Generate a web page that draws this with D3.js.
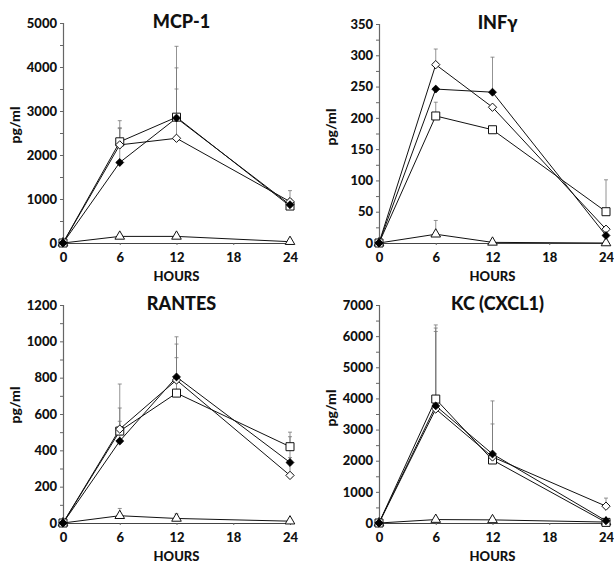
<!DOCTYPE html>
<html>
<head>
<meta charset="utf-8">
<script src="https://cdn.jsdelivr.net/npm/d3@7"></script>
<style>
  html, body { margin: 0; padding: 0; background: #fff; }
  svg { display: block; }
  text { font-family: Lato, "Open Sans", sans-serif; font-weight: 900; fill: #111; }
</style>
</head>
<body>
<svg id="chart" width="614" height="565"></svg>
<script>
// ---- data ----
const hours = [0, 6, 12, 24];
const xTicks = [0, 6, 12, 18, 24];
const seriesNames = ["filledDiamond", "openSquare", "openDiamond", "openTriangle"];

const panelTitles = ["MCP-1", "INF\u03b3", "RANTES", "KC (CXCL1)"];
const yMaxes = [5000, 350, 1200, 7000];
const yMajorSteps = [1000, 50, 200, 1000];
const yMinorSteps = [500, 25, 100, 500];

// MCP-1
const mcpFilled   = [0, 1830, 2840, 870];
const mcpSquare   = [0, 2300, 2860, 840];
const mcpDiamond  = [0, 2230, 2380, 940];
const mcpTriangle = [0, 150, 150, 30];
const mcpFilledErr   = [null, 2600, 3980, 1000];
const mcpSquareErr   = [null, 2780, 4470, 980];
const mcpDiamondErr  = [null, 2620, 3500, 1190];
const mcpTriangleErr = [null, null, null, null];

// INFγ
const infFilled   = [0, 246, 241, 12];
const infSquare   = [0, 203, 181, 50];
const infDiamond  = [0, 285, 217, 22];
const infTriangle = [0, 14, 1, 0];
const infFilledErr   = [null, null, 297, null];
const infSquareErr   = [null, 225, null, 101];
const infDiamondErr  = [null, 310, null, null];
const infTriangleErr = [null, 36, null, null];

// RANTES
const ranFilled   = [0, 451, 804, 333];
const ranSquare   = [0, 506, 715, 420];
const ranDiamond  = [0, 517, 787, 262];
const ranTriangle = [0, 40, 25, 10];
const ranFilledErr   = [null, 633, 985, 475];
const ranSquareErr   = [null, 765, 910, 500];
const ranDiamondErr  = [null, 560, 1025, 360];
const ranTriangleErr = [null, 80, 50, null];

// KC (CXCL1)
const kcFilled   = [0, 3760, 2216, 70];
const kcSquare   = [0, 3980, 2023, 20];
const kcDiamond  = [0, 3660, 2120, 540];
const kcTriangle = [0, 110, 100, 30];
const kcFilledErr   = [null, 6260, 3180, null];
const kcSquareErr   = [null, 6360, 3920, null];
const kcDiamondErr  = [null, 6150, null, 800];
const kcTriangleErr = [null, null, null, null];

const panelData = [
  { values: [mcpFilled, mcpSquare, mcpDiamond, mcpTriangle], errs: [mcpFilledErr, mcpSquareErr, mcpDiamondErr, mcpTriangleErr] },
  { values: [infFilled, infSquare, infDiamond, infTriangle], errs: [infFilledErr, infSquareErr, infDiamondErr, infTriangleErr] },
  { values: [ranFilled, ranSquare, ranDiamond, ranTriangle], errs: [ranFilledErr, ranSquareErr, ranDiamondErr, ranTriangleErr] },
  { values: [kcFilled, kcSquare, kcDiamond, kcTriangle], errs: [kcFilledErr, kcSquareErr, kcDiamondErr, kcTriangleErr] }
];

// ---- layout ----
const panelBoxes = [
  { x0: 63,  x1: 290, y0: 243, y1: 23,  ylabY: 125 },
  { x0: 379, x1: 606, y0: 243, y1: 24,  ylabY: 127 },
  { x0: 63,  x1: 290, y0: 523, y1: 305, ylabY: 405 },
  { x0: 379, x1: 606, y0: 523, y1: 305, ylabY: 408 }
];

const svg = d3.select("#chart");

function drawMarker(g, type, x, y) {
  if (type === "filledDiamond") {
    g.append("path").attr("d", d3.symbol(d3.symbolDiamond2, 40)())
      .attr("transform", `translate(${x},${y})`)
      .attr("fill", "#000").attr("stroke", "#000").attr("stroke-width", 0.8);
  } else if (type === "openSquare") {
    g.append("path").attr("d", d3.symbol(d3.symbolSquare, 64)())
      .attr("transform", `translate(${x},${y})`)
      .attr("fill", "#fff").attr("stroke", "#111").attr("stroke-width", 1);
  } else if (type === "openDiamond") {
    g.append("path").attr("d", d3.symbol(d3.symbolDiamond2, 44)())
      .attr("transform", `translate(${x},${y})`)
      .attr("fill", "#fff").attr("stroke", "#111").attr("stroke-width", 1);
  } else {
    g.append("path").attr("d", d3.symbol(d3.symbolTriangle, 40)())
      .attr("transform", `translate(${x},${y})`)
      .attr("fill", "#fff").attr("stroke", "#111").attr("stroke-width", 1);
  }
}

const tickFont = el => el.style("font-size", "13px").style("font-family", "Lato, sans-serif")
  .style("font-weight", "900").attr("fill", "#111");

panelBoxes.forEach((b, i) => {
  const g = svg.append("g");
  const x = d3.scaleLinear().domain([0, 24]).range([b.x0, b.x1]);
  const y = d3.scaleLinear().domain([0, yMaxes[i]]).range([b.y0, b.y1]);

  // y axis with minor ticks
  const minorTicks = d3.range(0, yMaxes[i] + 1e-9, yMinorSteps[i]);
  const majorTicks = d3.range(0, yMaxes[i] + 1e-9, yMajorSteps[i]);
  const yAxisMinor = d3.axisLeft(y).tickValues(minorTicks).tickSize(3).tickFormat("");
  const ya = g.append("g").attr("transform", `translate(${b.x0},0)`).call(yAxisMinor);
  ya.select(".domain").attr("stroke", "#666").attr("stroke-width", 1.2);
  ya.selectAll(".tick line").attr("stroke", "#666");
  const yAxisMajor = d3.axisLeft(y).tickValues(majorTicks).tickSize(0).tickPadding(6).tickFormat(d3.format("d"));
  const yb = g.append("g").attr("transform", `translate(${b.x0},0)`).call(yAxisMajor);
  yb.select(".domain").remove();
  tickFont(yb.selectAll("text"));

  // x axis
  const xAxis = d3.axisBottom(x).tickValues(xTicks).tickSize(2).tickPadding(8).tickSizeOuter(0).tickFormat(d3.format("d"));
  const xa = g.append("g").attr("transform", `translate(0,${b.y0})`).call(xAxis);
  xa.select(".domain").attr("stroke", "#444").attr("stroke-width", 1.2);
  xa.selectAll(".tick line").attr("stroke", "#666");
  tickFont(xa.selectAll("text"));

  // titles & labels
  g.append("text").attr("x", (b.x0 + b.x1) / 2 + 5).attr("y", b.y1 + 5)
    .attr("text-anchor", "middle").style("font-size", "18px").text(panelTitles[i]);
  g.append("text").attr("x", (b.x0 + b.x1) / 2).attr("y", b.y0 + 38)
    .attr("text-anchor", "middle").style("font-size", "13px").text("HOURS");
  g.append("text").attr("transform", `translate(${b.x0 - 43},${b.ylabY}) rotate(-90)`)
    .attr("text-anchor", "middle").style("font-size", "14px").text("pg/ml");

  const pd = panelData[i];
  // error bars (upward only)
  pd.errs.forEach((errs, s) => {
    errs.forEach((e, k) => {
      if (e == null) return;
      const xx = x(hours[k]);
      g.append("line").attr("x1", xx).attr("x2", xx)
        .attr("y1", y(pd.values[s][k])).attr("y2", y(e))
        .attr("stroke", "#777").attr("stroke-width", 0.8);
      g.append("line").attr("x1", xx - 2).attr("x2", xx + 2)
        .attr("y1", y(e)).attr("y2", y(e))
        .attr("stroke", "#777").attr("stroke-width", 0.8);
    });
  });

  // lines
  const line = d3.line().x((d, k) => x(hours[k])).y(d => y(d));
  pd.values.forEach(vals => {
    g.append("path").datum(vals).attr("d", line)
      .attr("fill", "none").attr("stroke", "#111").attr("stroke-width", 1);
  });
  // markers
  const order = [3, 1, 2, 0];
  order.forEach(s => {
    pd.values[s].forEach((v, k) => drawMarker(g, seriesNames[s], x(hours[k]), y(v)));
  });
});
</script>
</body>
</html>
